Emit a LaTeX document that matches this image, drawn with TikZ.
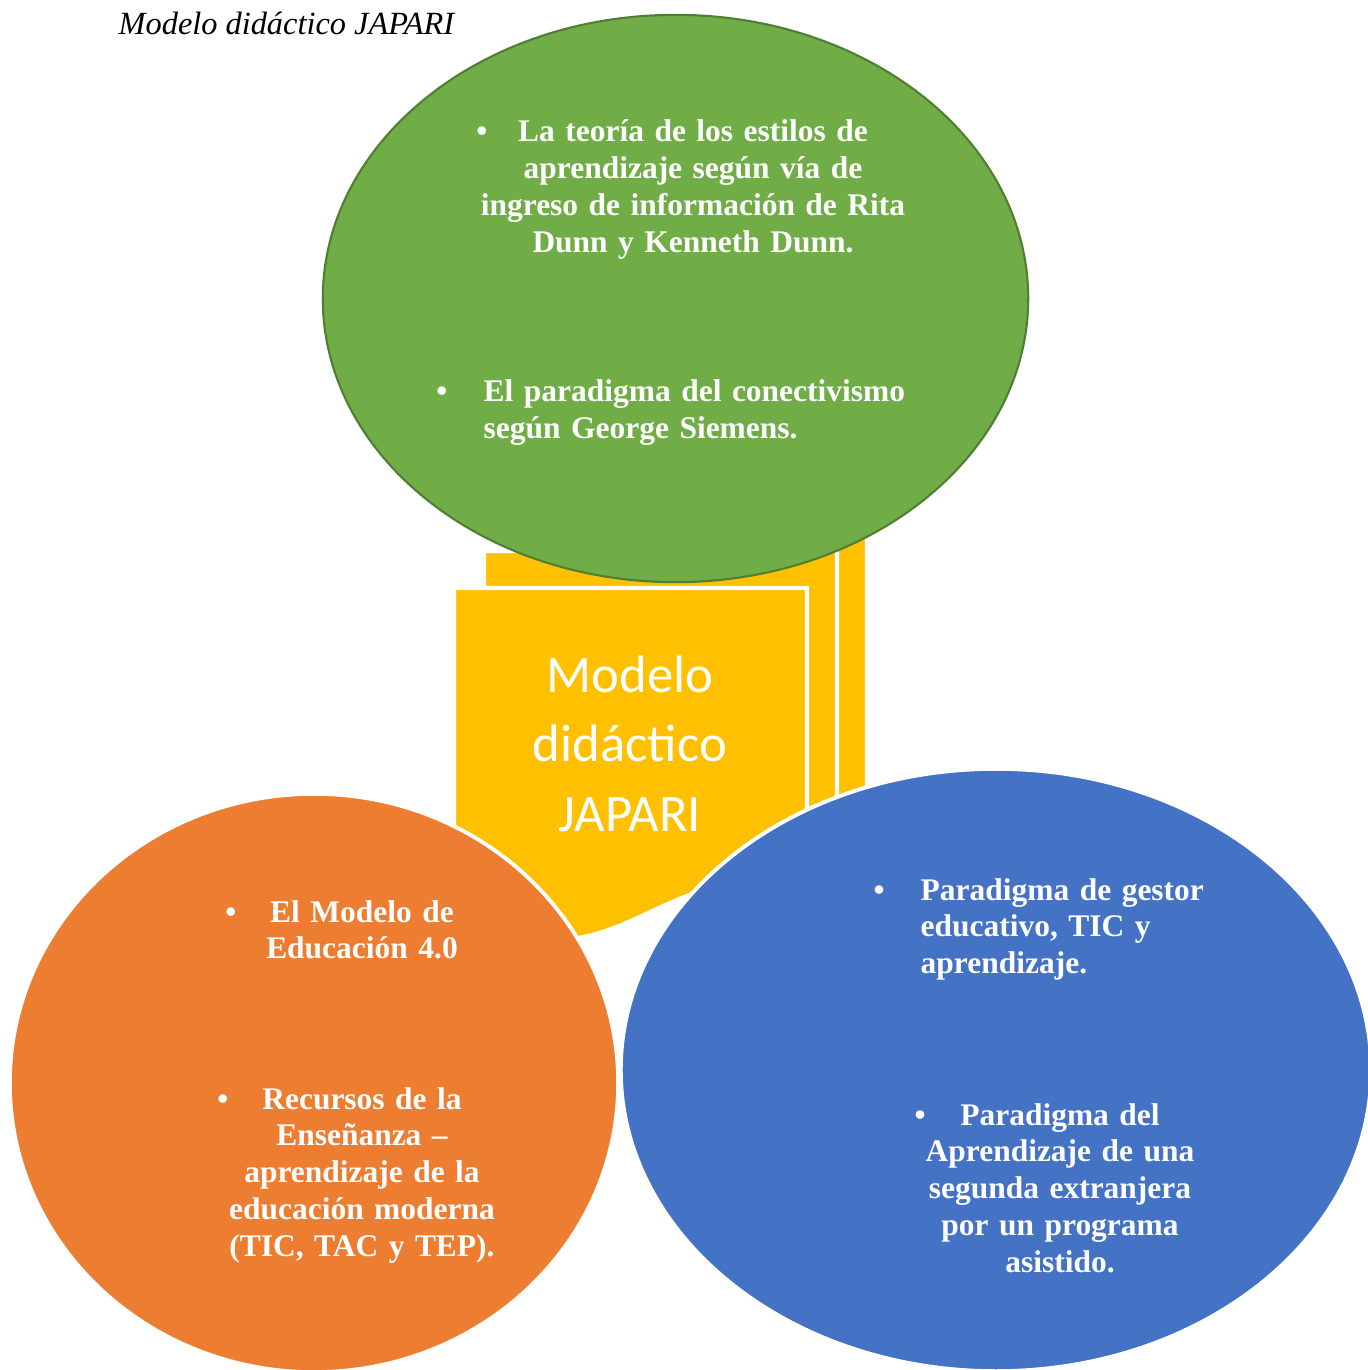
\documentclass[tikz,border=0pt]{standalone}
\usepackage{fontspec}
\setmainfont{Liberation Serif}
\newfontfamily\calibri{Carlito}
\usepackage{tikz}
\usetikzlibrary{shapes.geometric}
\definecolor{japgreen}{HTML}{70AD47}
\definecolor{japgreendark}{HTML}{507E32}
\definecolor{japorange}{HTML}{ED7D31}
\definecolor{japblue}{HTML}{4472C4}
\definecolor{japyellow}{HTML}{FFC000}

\begin{document}
\begin{tikzpicture}[
  x=0.01cm, y=-0.01cm,
  sheet/.style={fill=japyellow, draw=white, line width=1.2pt},
  bubble/.style={ellipse, draw=white, line width=1.1pt, inner sep=0pt},
  item/.style={font=\fontsize{8.95}{10.45}\selectfont\bfseries, text=white, inner sep=0pt, anchor=base, text width=4.6cm},
  dot/.style={font=\fontsize{8.95}{10.45}\selectfont\bfseries, text=white, inner sep=0pt, anchor=base},
]
  \useasboundingbox (0,0) rectangle (1368,1370);

  % Title
  \node[font=\fontsize{9.2}{11}\selectfont\itshape, anchor=base west, inner sep=0pt] (title) at (118,35) {Modelo didáctico JAPARI};

  % Stacked sheets, back to front
  \foreach \sx/\sy in {514/514, 484/551, 454/588}{
    \draw[sheet] (\sx,\sy) -- ++(353,0) -- ++(0,286.3)
      .. controls ++(-176.5,0) and ++(176.5,62) .. ++(-353,47.1) -- cycle;
  }
  \node[font=\calibri\fontsize{15}{19.9}\selectfont, text=white, align=center, anchor=base, text width=3cm, inner sep=0pt] (model) at (630,692) {Modelo\\didáctico\\JAPARI};

  % Bubbles
  \node[bubble, fill=japgreen, draw=japgreendark, line width=0.6pt, minimum width=7.05cm, minimum height=5.67cm] (theories) at (675.5,298.5) {};
  \node[bubble, fill=japorange, minimum width=6.08cm, minimum height=5.78cm] (resources) at (314,1083) {};
  \node[bubble, fill=japblue, minimum width=7.5cm, minimum height=6.02cm] (paradigms) at (996,1070) {};

  % Green items
  \node[dot] (theorydot1) at (482,142) {•};
  \node[item, align=center] (theory1) at (693,142) {La teoría de los estilos de\\aprendizaje según vía de\\ingreso de información de Rita\\Dunn y Kenneth Dunn.};
  \node[dot] (theorydot2) at (442,402) {•};
  \node[item, anchor=base west, align=left] (theory2) at (483,402) {El paradigma del conectivismo\\según George Siemens.};

  % Orange items
  \node[dot] (resourcedot1) at (231,922) {•};
  \node[item, align=center] (resource1) at (362,922) {El Modelo de\\Educación 4.0};
  \node[dot] (resourcedot2) at (223,1109) {•};
  \node[item, align=center] (resource2) at (362,1109) {Recursos de la\\Enseñanza –\\aprendizaje de la\\educación moderna\\(TIC, TAC y TEP).};

  % Blue items
  \node[dot] (paradigmdot1) at (879,900) {•};
  \node[item, anchor=base west, align=left] (paradigm1) at (920,900) {Paradigma de gestor\\educativo, TIC y\\aprendizaje.};
  \node[dot] (paradigmdot2) at (920,1125) {•};
  \node[item, align=center] (paradigm2) at (1060,1125) {Paradigma del\\Aprendizaje de una\\segunda extranjera\\por un programa\\asistido.};
\end{tikzpicture}
\end{document}
